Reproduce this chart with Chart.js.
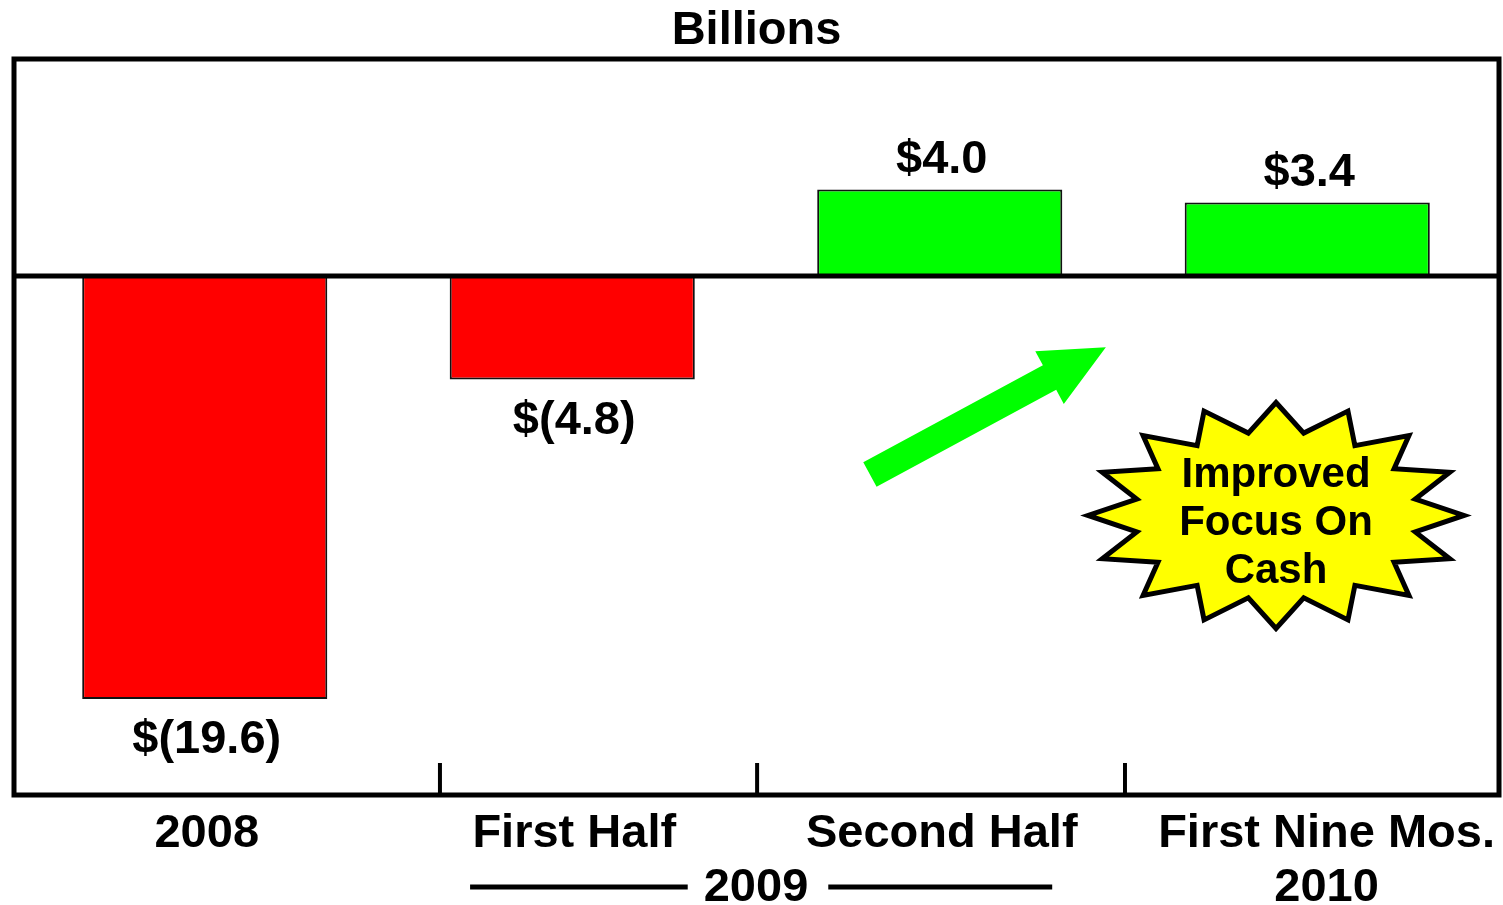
<!DOCTYPE html>
<html>
<head>
<meta charset="utf-8">
<script src="https://cdn.jsdelivr.net/npm/chart.js@4"></script>
<style>
  html, body { margin: 0; padding: 0; background: #fff; }
  canvas { display: block; }
</style>
</head>
<body>
<canvas id="chart" width="1503" height="905"></canvas>
<script>
const CATEGORIES = ['2008', 'First Half', 'Second Half', 'First Nine Mos.'];
const VALUES = [-19.6, -4.8, 4.0, 3.4];
const VALUE_LABELS = ['$(19.6)', '$(4.8)', '$4.0', '$3.4'];
const BAR_COLORS = ['#ff0000', '#ff0000', '#00ff00', '#00ff00'];
const TITLE = 'Billions';
// year group spanning First Half + Second Half, and the one under the last bar
const GROUP_2009 = { text: '2009', from: 0.722, to: 2.306, center: 1.5 };
const GROUP_2010 = { text: '2010', index: 3 };
// bottom tick marks, in category units
const TICK_POSITIONS = [0.64, 1.503, 2.504];
const CALLOUT_LINES = ['Improved', 'Focus On', 'Cash'];
// arrow tail / tip in (category, value) units
const ARROW_TAIL = [1.81, -9.2];
const ARROW_TIP = [2.452, -3.3];
const STAR_CENTER = [2.915, -11.1];

const FONT = '"Liberation Sans", Arial, Helvetica, sans-serif';
// the box is a bit wider than the bar area
const FRAME_INSET = { left: 7, right: 8 };

function drawStar(ctx, cx, cy) {
  const n = 16;
  const outer = [188, 113];
  const inner = [142, 84];
  ctx.beginPath();
  for (let i = 0; i < n * 2; i++) {
    const a = -Math.PI / 2 + (i * Math.PI) / n;
    const r = i % 2 === 0 ? outer : inner;
    const px = cx + r[0] * Math.cos(a);
    const py = cy + r[1] * Math.sin(a);
    if (i === 0) ctx.moveTo(px, py); else ctx.lineTo(px, py);
  }
  ctx.closePath();
  ctx.fillStyle = '#ffff00';
  ctx.fill();
  ctx.lineWidth = 5;
  ctx.lineJoin = 'miter';
  ctx.strokeStyle = '#000';
  ctx.stroke();
}

function drawArrow(ctx, x0, y0, x1, y1) {
  const dx = x1 - x0, dy = y1 - y0;
  const len = Math.hypot(dx, dy);
  const ux = dx / len, uy = dy / len;
  const nx = -uy, ny = ux;
  const shaft = 14, head = 30, headLen = 64;
  const bx = x1 - ux * headLen, by = y1 - uy * headLen;
  ctx.beginPath();
  ctx.moveTo(x0 + nx * shaft, y0 + ny * shaft);
  ctx.lineTo(bx + nx * shaft, by + ny * shaft);
  ctx.lineTo(bx + nx * head, by + ny * head);
  ctx.lineTo(x1, y1);
  ctx.lineTo(bx - nx * head, by - ny * head);
  ctx.lineTo(bx - nx * shaft, by - ny * shaft);
  ctx.lineTo(x0 - nx * shaft, y0 - ny * shaft);
  ctx.closePath();
  ctx.fillStyle = '#00ff00';
  ctx.fill();
}

const decorations = {
  id: 'decorations',
  afterDatasetsDraw(chart) {
    const { ctx, chartArea: area, scales: { x, y } } = chart;
    const left = area.left - FRAME_INSET.left;
    const right = area.right + FRAME_INSET.right;
    ctx.save();

    // frame and zero line
    ctx.strokeStyle = '#000';
    ctx.lineWidth = 5;
    ctx.strokeRect(left, area.top, right - left, area.bottom - area.top);
    const y0 = y.getPixelForValue(0);
    ctx.beginPath();
    ctx.moveTo(left, y0);
    ctx.lineTo(right, y0);
    ctx.stroke();

    // bottom tick marks
    ctx.lineWidth = 4;
    TICK_POSITIONS.forEach((p) => {
      const px = x.getPixelForValue(p);
      ctx.beginPath();
      ctx.moveTo(px, area.bottom);
      ctx.lineTo(px, area.bottom - 32);
      ctx.stroke();
    });

    ctx.fillStyle = '#000';
    ctx.font = 'bold 47px ' + FONT;
    ctx.textAlign = 'center';
    ctx.textBaseline = 'alphabetic';

    // title
    ctx.fillText(TITLE, (left + right) / 2, 44);

    // value labels
    const meta = chart.getDatasetMeta(0);
    meta.data.forEach((bar, i) => {
      const v = VALUES[i];
      const ty = v >= 0 ? bar.y - 17 : bar.y + 54;
      ctx.fillText(VALUE_LABELS[i], bar.x + 2, ty);
    });

    // category labels; a long one is pushed against the right edge of the box
    const centers = CATEGORIES.map((c, i) => {
      let cx = x.getPixelForValue(i) + 2;
      const w = ctx.measureText(c).width;
      if (cx + w / 2 > right - 40) cx = right - 4 - w / 2;
      ctx.fillText(c, cx, 847);
      return cx;
    });

    // year groups
    const gx = x.getPixelForValue(GROUP_2009.center);
    ctx.fillText(GROUP_2009.text, gx, 901);
    const half = ctx.measureText(GROUP_2009.text).width / 2;
    ctx.lineWidth = 5;
    ctx.beginPath();
    ctx.moveTo(x.getPixelForValue(GROUP_2009.from), 887);
    ctx.lineTo(gx - half - 16, 887);
    ctx.moveTo(gx + half + 20, 887);
    ctx.lineTo(x.getPixelForValue(GROUP_2009.to), 887);
    ctx.stroke();
    ctx.fillText(GROUP_2010.text, centers[GROUP_2010.index], 901);

    // arrow
    drawArrow(ctx,
      x.getPixelForValue(ARROW_TAIL[0]), y.getPixelForValue(ARROW_TAIL[1]),
      x.getPixelForValue(ARROW_TIP[0]), y.getPixelForValue(ARROW_TIP[1]));

    // starburst callout
    const sx = x.getPixelForValue(STAR_CENTER[0]);
    const sy = y.getPixelForValue(STAR_CENTER[1]);
    drawStar(ctx, sx, sy);
    ctx.fillStyle = '#000';
    ctx.font = 'bold 42px ' + FONT;
    CALLOUT_LINES.forEach((line, i) => {
      ctx.fillText(line, sx, sy - 28 + i * 48);
    });

    ctx.restore();
  },
};

new Chart(document.getElementById('chart'), {
  type: 'bar',
  data: {
    labels: CATEGORIES,
    datasets: [{
      data: VALUES,
      backgroundColor: BAR_COLORS,
      borderColor: '#111',
      borderWidth: 2,
      borderSkipped: false,
      barPercentage: 0.667,
      categoryPercentage: 1,
    }],
  },
  options: {
    responsive: false,
    animation: false,
    devicePixelRatio: 1,
    layout: { padding: { top: 59, left: 21, right: 12, bottom: 110 } },
    plugins: { legend: { display: false }, tooltip: { enabled: false } },
    scales: {
      x: { display: false },
      y: { display: false, min: -24.05, max: 10.05 },
    },
  },
  plugins: [decorations],
});
</script>
</body>
</html>
